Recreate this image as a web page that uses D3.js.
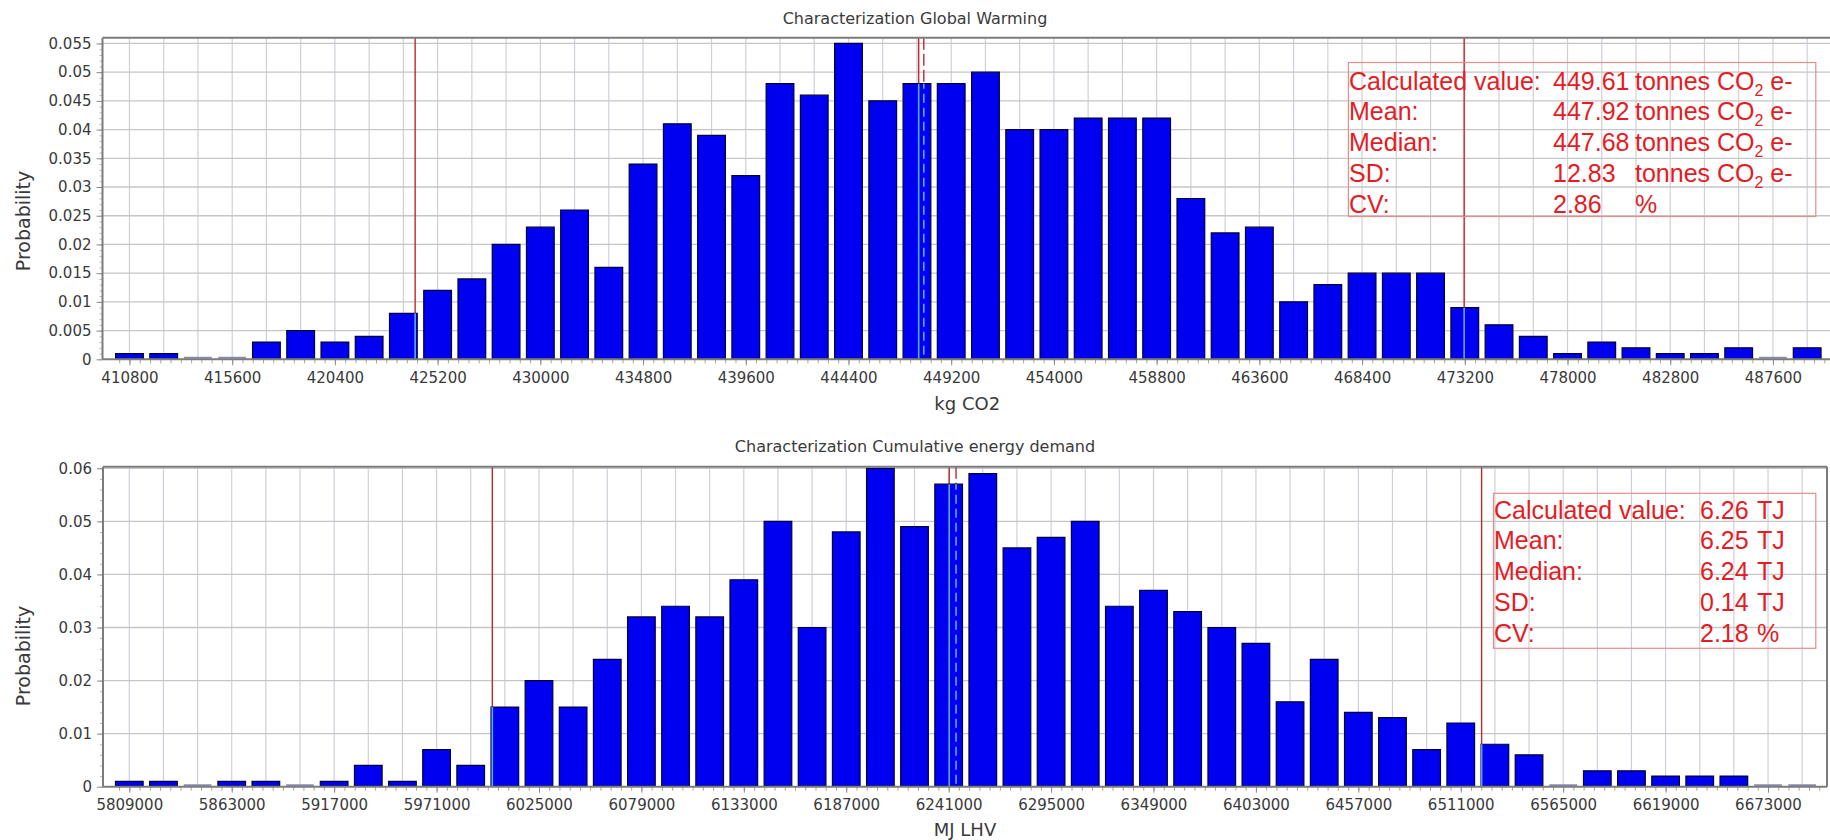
<!DOCTYPE html>
<html><head><meta charset="utf-8">
<script src="https://cdn.jsdelivr.net/npm/d3@7"></script>
<style>
body{margin:0;background:#fff}
svg{display:block}
.tick text{font-family:"DejaVu Sans",Verdana,sans-serif;font-size:15px;fill:#3a3a3a}
</style>
</head><body>
<svg id="c" width="1830" height="840"></svg>
<script>
// ---------- DATA: Global warming (kg CO2) ----------
const gwBins = [410800,412400,414000,415600,417200,418800,420400,422000,423600,425200,
  426800,428400,430000,431600,433200,434800,436400,438000,439600,441200,
  442800,444400,446000,447600,449200,450800,452400,454000,455600,457200,
  458800,460400,462000,463600,465200,466800,468400,470000,471600,473200,
  474800,476400,478000,479600,481200,482800,484400,486000,487600,489200];
const gwProb = [0.001,0.001,0,0,0.003,0.005,0.003,0.004,0.008,0.012,
  0.014,0.020,0.023,0.026,0.016,0.034,0.041,0.039,0.032,0.048,
  0.046,0.055,0.045,0.048,0.048,0.050,0.040,0.040,0.042,0.042,
  0.042,0.028,0.022,0.023,0.010,0.013,0.015,0.015,0.015,0.009,
  0.006,0.004,0.001,0.003,0.002,0.001,0.001,0.002,0,0.002];
const gwXTicks = [410800,415600,420400,425200,430000,434800,439600,444400,449200,454000,458800,463600,468400,473200,478000,482800,487600];
const gwYTicks = [0,0.005,0.01,0.015,0.02,0.025,0.03,0.035,0.04,0.045,0.05,0.055];
const gwYLabels = ["0","0.005","0.01","0.015","0.02","0.025","0.03","0.035","0.04","0.045","0.05","0.055"];
const gwMarkerValues = [424150, 447680, 447920, 473170];
const gwMarkerKinds  = ["solid","solid","dashed","solid"];
const gwStatLabels = ["Calculated value:","Mean:","Median:","SD:","CV:"];
const gwStatValues = ["449.61","447.92","447.68","12.83","2.86"];
const gwStatUnits  = ["tonnes CO|2| e-","tonnes CO|2| e-","tonnes CO|2| e-","tonnes CO|2| e-","%"];

// ---------- DATA: Cumulative energy demand (MJ LHV) ----------
const cedBins = [5809000,5827000,5845000,5863000,5881000,5899000,5917000,5935000,5953000,5971000,
  5989000,6007000,6025000,6043000,6061000,6079000,6097000,6115000,6133000,6151000,
  6169000,6187000,6205000,6223000,6241000,6259000,6277000,6295000,6313000,6331000,
  6349000,6367000,6385000,6403000,6421000,6439000,6457000,6475000,6493000,6511000,
  6529000,6547000,6565000,6583000,6601000,6619000,6637000,6655000,6673000,6691000];
const cedProb = [0.001,0.001,0,0.001,0.001,0,0.001,0.004,0.001,0.007,
  0.004,0.015,0.020,0.015,0.024,0.032,0.034,0.032,0.039,0.050,
  0.030,0.048,0.060,0.049,0.057,0.059,0.045,0.047,0.050,0.034,
  0.037,0.033,0.030,0.027,0.016,0.024,0.014,0.013,0.007,0.012,
  0.008,0.006,0,0.003,0.003,0.002,0.002,0.002,0,0];
const cedXTicks = [5809000,5863000,5917000,5971000,6025000,6079000,6133000,6187000,6241000,6295000,6349000,6403000,6457000,6511000,6565000,6619000,6673000];
const cedYTicks = [0,0.01,0.02,0.03,0.04,0.05,0.06];
const cedYLabels = ["0","0.01","0.02","0.03","0.04","0.05","0.06"];
const cedMarkerValues = [6000400, 6241300, 6244900, 6522000];
const cedMarkerKinds  = ["solid","solid","dashed","solid"];
const cedStatLabels = ["Calculated value:","Mean:","Median:","SD:","CV:"];
const cedStatValues = ["6.26","6.25","6.24","0.14","2.18"];
const cedStatUnits  = ["TJ","TJ","TJ","TJ","%"];

const svg = d3.select("#c");
const defs = svg.append("defs");
const FONT = '"DejaVu Sans",Verdana,sans-serif';
const LEG_FONT = '"Liberation Sans",Arial,sans-serif';

function drawChart(cfg){
  const g = svg.append("g");
  const x = d3.scaleLinear().domain(cfg.xDomain).range([cfg.left, cfg.right]);
  const y = d3.scaleLinear().domain(cfg.yDomain).range([cfg.bottom, cfg.top]);
  const half = cfg.binWidth * 0.405;
  const data = cfg.bins.map((c,i)=>({c, v: cfg.values[i]}));
  const barPath = d => {
    const x0 = x(d.c - half), x1 = x(d.c + half), y0 = y(0) - 0.5;
    const y1 = Math.min(y(d.v), y0 - 2);
    return `M${x0},${y0}V${y1}H${x1}V${y0}Z`;
  };

  // plot clip
  const pc = cfg.id + "-plot";
  defs.append("clipPath").attr("id", pc).append("rect")
    .attr("x", cfg.left).attr("y", cfg.top)
    .attr("width", cfg.right - cfg.left).attr("height", cfg.bottom - cfg.top);
  const plot = g.append("g").attr("clip-path", `url(#${pc})`);

  // gridlines
  plot.append("g").selectAll("line").data(cfg.bins).join("line")
    .attr("x1", d=>x(d)).attr("x2", d=>x(d))
    .attr("y1", cfg.top).attr("y2", cfg.bottom)
    .attr("stroke", "#cfcfdc").attr("stroke-width", 1.2);
  plot.append("g").selectAll("line").data(cfg.yTicks).join("line")
    .attr("x1", cfg.left).attr("x2", cfg.right)
    .attr("y1", d=>y(d)).attr("y2", d=>y(d))
    .attr("stroke", "#c6c6c6").attr("stroke-width", 1.3);

  const markers = cfg.markerValues.map((v,i)=>({v, kind: cfg.markerKinds[i]}));
  // red marker lines
  plot.append("g").selectAll("line").data(markers).join("line")
    .attr("x1", d=>x(d.v)).attr("x2", d=>x(d.v))
    .attr("y1", cfg.top).attr("y2", cfg.bottom)
    .attr("stroke", "#c0282c").attr("stroke-width", 1.4)
    .attr("stroke-dasharray", d=>d.kind === "dashed" ? "12,4" : null);

  // bars
  plot.append("g").selectAll("path").data(data).join("path")
    .attr("d", barPath)
    .attr("fill", d => d.v > 0 ? "#0000f0" : "#8a8ab4")
    .attr("stroke", d => d.v > 0 ? "#00003c" : "none")
    .attr("stroke-width", 1.2);

  // marker lines inside bars (light blue)
  const bc = cfg.id + "-bars";
  defs.append("clipPath").attr("id", bc).selectAll("path").data(data.filter(d=>d.v>0)).join("path")
    .attr("d", barPath);
  g.append("g").attr("clip-path", `url(#${bc})`).selectAll("line").data(markers).join("line")
    .attr("x1", d=>x(d.v)).attr("x2", d=>x(d.v))
    .attr("y1", cfg.top).attr("y2", cfg.bottom)
    .attr("stroke", "#5aaaff").attr("stroke-width", 1.6)
    .attr("stroke-dasharray", d=>d.kind === "dashed" ? "9,5" : null);

  // minor ticks x
  const xStep = (cfg.xTicks[1] - cfg.xTicks[0]) / 10;
  const xMinor = d3.range(cfg.xDomain[0] - ((cfg.xDomain[0]-cfg.xTicks[0]) % xStep) + xStep, cfg.xDomain[1], xStep);
  g.append("g").attr("transform", `translate(0,${cfg.bottom})`)
    .call(d3.axisBottom(x).tickValues(xMinor).tickSize(4).tickFormat(""))
    .call(s => { s.select(".domain").remove(); s.selectAll("line").attr("stroke","#b0a878"); });
  // major x axis
  g.append("g").attr("transform", `translate(0,${cfg.bottom})`)
    .call(d3.axisBottom(x).tickValues(cfg.xTicks).tickSize(6).tickPadding(7).tickFormat(d3.format("d")))
    .call(s => { s.select(".domain").remove(); s.selectAll("line").attr("stroke","#8a8a8a"); });

  // minor ticks y
  const yMinor = d3.range(0, cfg.yDomain[1], cfg.yMinorStep);
  g.append("g").attr("transform", `translate(${cfg.left},0)`)
    .call(d3.axisLeft(y).tickValues(yMinor).tickSize(3).tickFormat(""))
    .call(s => { s.select(".domain").remove(); s.selectAll("line").attr("stroke","#b8b8b8"); });
  g.append("g").attr("transform", `translate(${cfg.left},0)`)
    .call(d3.axisLeft(y).tickValues(cfg.yTicks).tickSize(6).tickPadding(5)
      .tickFormat((d,i)=>cfg.yLabels[i]))
    .call(s => { s.select(".domain").remove(); s.selectAll("line").attr("stroke","#8a8a8a"); });

  // frame
  const fr = g.append("g").attr("stroke", "#7c7c7c").attr("stroke-width", 2).attr("fill","none");
  fr.append("line").attr("x1", cfg.left).attr("x2", cfg.right).attr("y1", cfg.top).attr("y2", cfg.top);
  fr.append("line").attr("x1", cfg.left).attr("x2", cfg.right).attr("y1", cfg.bottom).attr("y2", cfg.bottom);
  fr.append("line").attr("x1", cfg.left).attr("x2", cfg.left).attr("y1", cfg.top).attr("y2", cfg.bottom);
  fr.append("line").attr("x1", cfg.right).attr("x2", cfg.right).attr("y1", cfg.top).attr("y2", cfg.bottom);

  // titles
  g.append("text").attr("x", 915).attr("y", cfg.titleY)
    .attr("text-anchor","middle").attr("dominant-baseline","central")
    .attr("font-family", FONT).attr("font-size", 16).attr("fill", "#3a3a3a").text(cfg.title);
  g.append("text").attr("x", (cfg.left + cfg.right)/2).attr("y", cfg.xTitleY)
    .attr("text-anchor","middle").attr("dominant-baseline","central")
    .attr("font-family", FONT).attr("font-size", 18).attr("fill", "#3a3a3a").text(cfg.xTitle);
  g.append("text").attr("transform", `translate(23,${cfg.yTitleY}) rotate(-90)`)
    .attr("text-anchor","middle").attr("dominant-baseline","central")
    .attr("font-family", FONT).attr("font-size", 19).attr("fill", "#3a3a3a").text("Probability");

  // stats box
  const L = cfg.legend;
  g.append("rect").attr("x", L.x0).attr("y", L.y0).attr("width", L.x1 - L.x0).attr("height", L.y1 - L.y0)
    .attr("fill","none").attr("stroke","#ec8a8a").attr("stroke-width",1.2);
  const lg = g.append("g").attr("font-family", LEG_FONT).attr("font-size", 25).attr("fill", "#e41c24");
  cfg.statLabels.forEach((lab,i)=>{
    const by = L.base0 + i * L.step;
    lg.append("text").attr("x", L.xLab).attr("y", by).text(lab);
    lg.append("text").attr("x", L.xVal).attr("y", by).text(cfg.statValues[i]);
    const parts = cfg.statUnits[i].split("|");
    const t = lg.append("text").attr("x", L.xUnit).attr("y", by);
    t.append("tspan").text(parts[0]);
    if (parts.length > 1){
      t.append("tspan").attr("dy", 6).attr("font-size", 16).text(parts[1]);
      t.append("tspan").attr("dy", -6).text(parts[2]);
    }
  });
}

drawChart({
  id: "gw", title: "Characterization Global Warming", xTitle: "kg CO2",
  bins: gwBins, values: gwProb, binWidth: 1600,
  xDomain: [409540, 490360], yDomain: [0, 0.056],
  left: 102.5, right: 1832, top: 37.7, bottom: 359.3,
  xTicks: gwXTicks, yTicks: gwYTicks, yLabels: gwYLabels, yMinorStep: 0.001,
  markerValues: gwMarkerValues, markerKinds: gwMarkerKinds,
  titleY: 18.5, xTitleY: 403, yTitleY: 221,
  statLabels: gwStatLabels, statValues: gwStatValues, statUnits: gwStatUnits,
  legend: {x0: 1348.4, x1: 1815.8, y0: 62.5, y1: 216.5, xLab: 1349, xVal: 1553, xUnit: 1635, base0: 89.5, step: 30.75}
});
drawChart({
  id: "ced", title: "Characterization Cumulative energy demand", xTitle: "MJ LHV",
  bins: cedBins, values: cedProb, binWidth: 18000,
  xDomain: [5795130, 6704100], yDomain: [0, 0.0603],
  left: 103, right: 1827, top: 466.7, bottom: 786.7,
  xTicks: cedXTicks, yTicks: cedYTicks, yLabels: cedYLabels, yMinorStep: 0.002,
  markerValues: cedMarkerValues, markerKinds: cedMarkerKinds,
  titleY: 446.7, xTitleY: 829, yTitleY: 656,
  statLabels: cedStatLabels, statValues: cedStatValues, statUnits: cedStatUnits,
  legend: {x0: 1493.5, x1: 1815.8, y0: 493.3, y1: 648.3, xLab: 1494, xVal: 1700, xUnit: 1757, base0: 518.5, step: 30.75}
});
</script>
</body></html>
